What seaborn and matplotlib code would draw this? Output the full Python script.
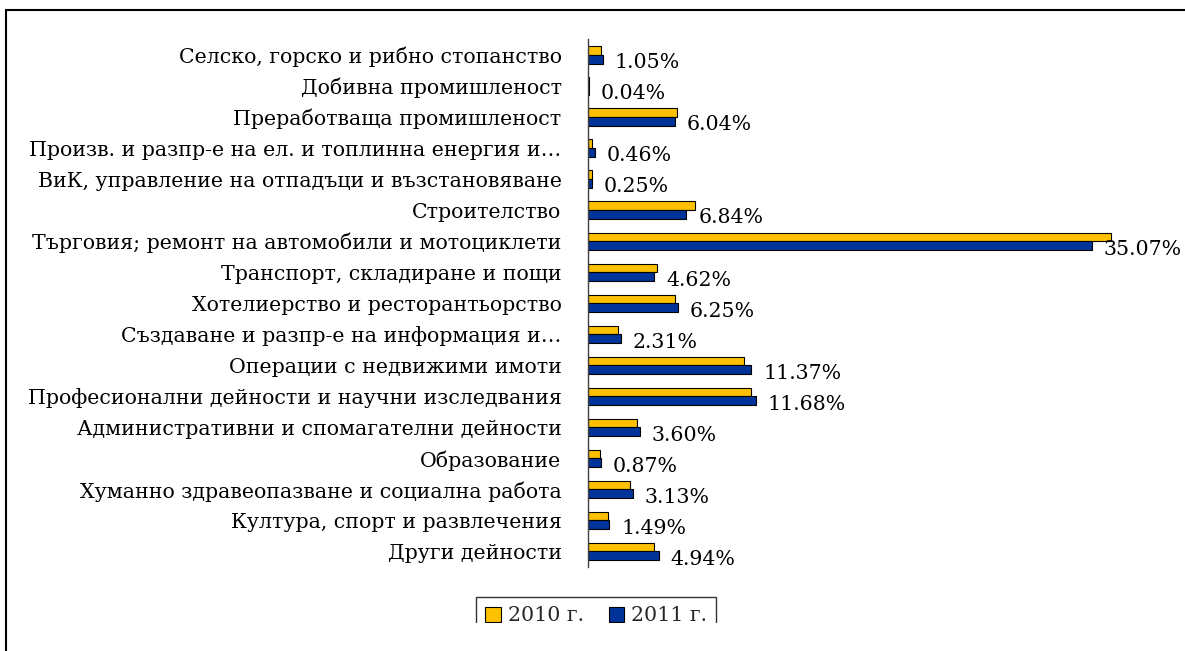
import matplotlib
matplotlib.use("Agg")
import matplotlib.pyplot as plt
import seaborn as sns
import pandas as pd
from matplotlib.patches import Rectangle
from matplotlib.lines import Line2D

categories = [
    "Селско, горско и рибно стопанство",
    "Добивна промишленост",
    "Преработваща промишленост",
    "Произв. и разпр-е на ел. и топлинна енергия и…",
    "ВиК, управление на отпадъци и възстановяване",
    "Строителство",
    "Търговия; ремонт на автомобили и мотоциклети",
    "Транспорт, складиране и пощи",
    "Хотелиерство и ресторантьорство",
    "Създаване и разпр-е на информация и…",
    "Операции с недвижими имоти",
    "Професионални дейности и научни изследвания",
    "Административни и спомагателни дейности",
    "Образование",
    "Хуманно здравеопазване и социална работа",
    "Култура, спорт и развлечения",
    "Други дейности",
]
values_2010 = [0.88, 0.04, 6.18, 0.27, 0.25, 7.41, 36.38, 4.78, 6.06, 2.08,
               10.88, 11.32, 3.38, 0.86, 2.94, 1.39, 4.61]
values_2011 = [1.05, 0.04, 6.04, 0.46, 0.25, 6.84, 35.07, 4.62, 6.25, 2.31,
               11.37, 11.68, 3.60, 0.87, 3.13, 1.49, 4.94]
series_names = ["2010 г.", "2011 г."]
colors = ["#FFC000", "#003399"]

df = pd.DataFrame({
    "category": categories * 2,
    "value": values_2010 + values_2011,
    "year": [series_names[0]] * len(categories) + [series_names[1]] * len(categories),
})

sns.set_style("white")
plt.rcParams["font.family"] = ["DejaVu Serif"]
FS = 14.8

W, H = 1185, 651
fig = plt.figure(figsize=(W / 100, H / 100), dpi=100)
ax_left, ax_right, ax_top, ax_bottom = 588, 1163, 39.5, 567
ax = fig.add_axes([ax_left / W, 1 - ax_bottom / H, (ax_right - ax_left) / W, (ax_bottom - ax_top) / H])

sns.barplot(data=df, y="category", x="value", hue="year", orient="h",
            palette=colors, width=0.56, edgecolor="black", linewidth=0.8,
            ax=ax, legend=False, saturation=1)

ax.set_xlim(0, 40)
ax.set_ylim(len(categories) - 0.5, -0.5)
ax.set_xlabel("")
ax.set_ylabel("")
ax.set_xticks([])
for s in ["top", "right", "bottom"]:
    ax.spines[s].set_visible(False)
ax.spines["left"].set_color("#404040")
ax.spines["left"].set_linewidth(1.0)

ax.set_yticks(range(len(categories)))
ax.set_yticklabels(categories, fontsize=FS, color="black")
ax.tick_params(axis="y", which="major", length=0, pad=19)
ax.set_yticks([i - 0.5 for i in range(len(categories) + 1)], minor=True)
ax.tick_params(axis="y", which="minor", length=5, width=1, color="#404040", direction="out")

labels = ax.bar_label(ax.containers[1], labels=[f"{v:.2f}%" for v in values_2011],
                      padding=9, fontsize=FS, color="black")
for t in labels:
    t.xyann = (8.5, -2.5)

handles = [Rectangle((0, 0), 1, 1, facecolor=c, edgecolor="black", linewidth=0.8) for c in colors]
leg = fig.legend(handles, series_names, loc="upper left",
                 bbox_to_anchor=(476 / W, 1 - 597 / H), ncol=2,
                 fontsize=FS, frameon=True, fancybox=False,
                 handlelength=0.75, handleheight=0.75, handletextpad=0.35,
                 columnspacing=1.2, borderpad=0.45, borderaxespad=0)
leg.get_frame().set_edgecolor("black")
leg.get_frame().set_linewidth(1.0)

# white mask that crops the bottom of the legend (as in the reference)
fig.patches.append(Rectangle((8 / W, 0), 1, 28 / H, transform=fig.transFigure,
                             facecolor="white", edgecolor="none", zorder=100))
# outer frame (top and left edges)
fig.add_artist(Line2D([6 / W, 1], [1 - 10 / H, 1 - 10 / H], transform=fig.transFigure,
                      color="black", linewidth=1.5, zorder=101))
fig.add_artist(Line2D([6 / W, 6 / W], [0, 1 - 10 / H], transform=fig.transFigure,
                      color="black", linewidth=1.5, zorder=101))

fig.savefig("out.png", dpi=100, facecolor="white")
